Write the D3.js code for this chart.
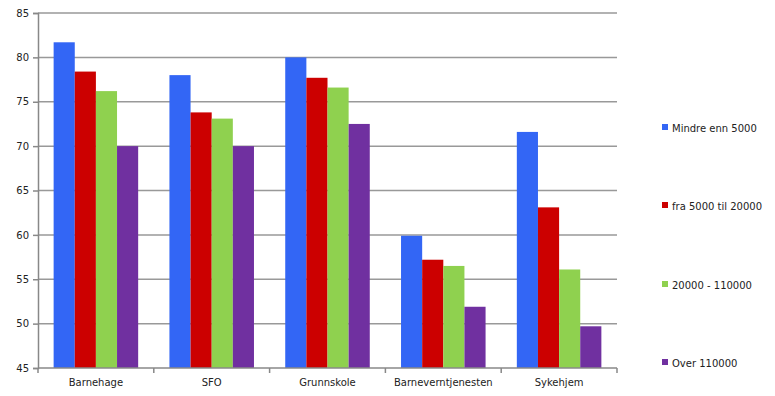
<!DOCTYPE html>
<html>
<head>
<meta charset="utf-8">
<script src="https://cdn.jsdelivr.net/npm/d3@7"></script>
<style>
  body { margin: 0; background: #fff; }
  svg text { font-family: "DejaVu Sans", sans-serif; fill: #222; }
</style>
</head>
<body>
<div id="chart"></div>
<script>
// data
var categories = ["Barnehage", "SFO", "Grunnskole", "Barneverntjenesten", "Sykehjem"];
var seriesNames = ["Mindre enn 5000", "fra 5000 til 20000", "20000 - 110000", "Over 110000"];
var seriesColors = ["#3366f5", "#cc0000", "#8fd14f", "#7030a0"];
var mindreEnn5000 = [81.7, 78.0, 80.0, 59.9, 71.6];
var fra5000til20000 = [78.4, 73.8, 77.7, 57.2, 63.1];
var fra20000til110000 = [76.2, 73.1, 76.6, 56.5, 56.1];
var over110000 = [70.0, 70.0, 72.5, 51.9, 49.7];
var yTicks = [45, 50, 55, 60, 65, 70, 75, 80, 85];

var seriesValues = [mindreEnn5000, fra5000til20000, fra20000til110000, over110000];

var width = 775, height = 396;
var margin = {top: 13, right: 158, bottom: 28, left: 38};
var innerW = width - margin.left - margin.right,
    innerH = height - margin.top - margin.bottom;

var svg = d3.select("#chart").append("svg")
  .attr("width", width)
  .attr("height", height);

var g = svg.append("g")
  .attr("transform", "translate(" + margin.left + "," + margin.top + ")");

var x0 = d3.scaleBand().domain(categories).range([0, innerW]).paddingInner(0.27).paddingOuter(0.135);
var x1 = d3.scaleBand().domain(d3.range(seriesNames.length)).range([0, x0.bandwidth()]);
var y = d3.scaleLinear().domain([45, 85]).range([innerH, 0]);

// gridlines
g.selectAll(".grid").data(yTicks.slice(1)).enter().append("line")
  .attr("x1", 0).attr("x2", innerW)
  .attr("y1", function(d) { return y(d); })
  .attr("y2", function(d) { return y(d); })
  .attr("stroke", "#999").attr("stroke-width", 1.5);

// bars
var group = g.selectAll(".cat").data(categories).enter().append("g")
  .attr("transform", function(d) { return "translate(" + x0(d) + ",0)"; });

group.selectAll("rect")
  .data(function(d, i) { return seriesValues.map(function(s, k) { return {k: k, v: s[i]}; }); })
  .enter().append("rect")
  .attr("x", function(d) { return x1(d.k); })
  .attr("width", x1.bandwidth())
  .attr("y", function(d) { return y(d.v); })
  .attr("height", function(d) { return innerH - y(d.v); })
  .attr("fill", function(d) { return seriesColors[d.k]; });

// y axis
var yAxis = g.append("g")
  .call(d3.axisLeft(y).tickValues(yTicks).tickSize(5).tickPadding(4));
yAxis.select(".domain").attr("stroke", "#888").attr("stroke-width", 1.5);
yAxis.selectAll(".tick line").attr("stroke", "#888").attr("stroke-width", 1.5);
yAxis.selectAll("text").style("font-size", "10px").attr("fill", "#222");

// x axis, ticks between categories
var xAxis = g.append("g").attr("transform", "translate(0," + innerH + ")");
xAxis.append("line").attr("x1", 0).attr("x2", innerW).attr("stroke", "#888").attr("stroke-width", 1.5);
xAxis.selectAll(".sep").data(d3.range(categories.length + 1)).enter().append("line")
  .attr("x1", function(i) { return innerW * i / categories.length; })
  .attr("x2", function(i) { return innerW * i / categories.length; })
  .attr("y1", 0).attr("y2", 5)
  .attr("stroke", "#888").attr("stroke-width", 1.5);
xAxis.selectAll(".lbl").data(categories).enter().append("text")
  .attr("x", function(d) { return x0(d) + x0.bandwidth() / 2; })
  .attr("y", 18)
  .attr("text-anchor", "middle")
  .style("font-size", "10px")
  .text(function(d) { return d; });

// legend
var legendY = [128, 206, 285, 363];
var legend = svg.selectAll(".legend").data(seriesNames).enter().append("g")
  .attr("transform", function(d, i) { return "translate(662," + legendY[i] + ")"; });
legend.append("rect")
  .attr("x", 0).attr("y", -4).attr("width", 6).attr("height", 6)
  .attr("fill", function(d, i) { return seriesColors[i]; });
legend.append("text")
  .attr("x", 10).attr("y", 3.5)
  .style("font-size", "10px")
  .text(function(d) { return d; });
</script>
</body>
</html>
